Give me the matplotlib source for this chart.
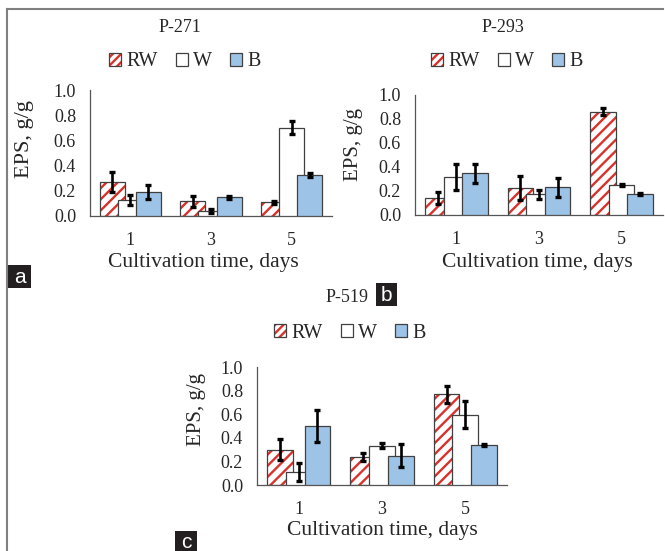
"""
EPS yield of three strains (P-271, P-293, P-519) under RW / W / B light.
"""

import matplotlib.pyplot as plt
import numpy as np
from matplotlib.lines import Line2D
from matplotlib.patches import Patch, Rectangle
from matplotlib.legend_handler import HandlerTuple

# --- data ---
days = ["1", "3", "5"]
series = ["RW", "W", "B"]

p271_rw = [0.27, 0.117, 0.108]
p271_rw_err = [0.083, 0.043, 0.01]
p271_w = [0.127, 0.042, 0.70]
p271_w_err = [0.04, 0.015, 0.053]
p271_b = [0.19, 0.148, 0.325]
p271_b_err = [0.053, 0.01, 0.015]

p293_rw = [0.138, 0.222, 0.86]
p293_rw_err = [0.05, 0.10, 0.03]
p293_w = [0.317, 0.172, 0.25]
p293_w_err = [0.11, 0.04, 0.01]
p293_b = [0.347, 0.23, 0.175]
p293_b_err = [0.08, 0.08, 0.01]

p519_rw = [0.30, 0.236, 0.767]
p519_rw_err = [0.088, 0.035, 0.068]
p519_w = [0.108, 0.332, 0.597]
p519_w_err = [0.075, 0.02, 0.114]
p519_b = [0.497, 0.25, 0.34]
p519_b_err = [0.135, 0.10, 0.01]

yticks = [0.0, 0.2, 0.4, 0.6, 0.8, 1.0]

# --- style ---
RED = "#d9312b"
BLUE = "#9dc3e6"
EDGE = "#404040"
TEXT = "#262626"
SERIF = "Liberation Serif"
BAR_W = 0.31
OFFSET = 0.225

plt.rcParams["font.family"] = SERIF
plt.rcParams["hatch.linewidth"] = 1.7
plt.rcParams["hatch.color"] = RED

W_PX, H_PX = 665, 551
fig = plt.figure(figsize=(W_PX / 100, H_PX / 100), dpi=100, facecolor="white")


def fx(px):
    return px / W_PX


def fy(py):
    return 1 - py / H_PX


def draw_panel(rect, rw, rw_err, w, w_err, b, b_err):
    ax = fig.add_axes(rect)
    x = np.arange(len(days))
    # RW: red hatch on white, then dark outline
    ax.bar(x - OFFSET, rw, BAR_W, color="white", edgecolor=RED, hatch="///", linewidth=0, zorder=2)
    ax.bar(x - OFFSET, rw, BAR_W, color="none", edgecolor=EDGE, linewidth=0.9, zorder=2)
    ax.bar(x, w, BAR_W, color="white", edgecolor=EDGE, linewidth=0.9, zorder=3)
    ax.bar(x + OFFSET, b, BAR_W, color=BLUE, edgecolor=EDGE, linewidth=0.9, zorder=4)
    for xs, vals, errs in ((x - OFFSET, rw, rw_err), (x, w, w_err), (x + OFFSET, b, b_err)):
        ax.errorbar(xs, vals, yerr=errs, fmt="none", ecolor="black", elinewidth=1.9,
                    capsize=2.3, capthick=2.4, zorder=6)
    ax.set_xlim(-0.5, 2.5)
    ax.set_ylim(0, 1.0)
    ax.set_xticks(x)
    ax.set_xticklabels(days)
    ax.set_yticks(yticks)
    ax.set_yticklabels([f"{t:.1f}" for t in yticks])
    ax.tick_params(axis="x", length=0, pad=11.5, labelsize=13, labelcolor=TEXT)
    ax.tick_params(axis="y", length=0, pad=10, labelsize=13, labelcolor=TEXT)
    for s in ("top", "right"):
        ax.spines[s].set_visible(False)
    for s in ("left", "bottom"):
        ax.spines[s].set_color("#555555")
        ax.spines[s].set_linewidth(0.9)
    ax.set_facecolor("none")
    return ax


def add_legend(cx, cy):
    rw_h = (Patch(facecolor="white", edgecolor=RED, hatch="////", linewidth=0),
            Patch(facecolor="none", edgecolor=EDGE, linewidth=0.9))
    w_h = Patch(facecolor="white", edgecolor=EDGE, linewidth=0.9)
    b_h = Patch(facecolor=BLUE, edgecolor=EDGE, linewidth=0.9)
    fig.legend([rw_h, w_h, b_h], series, loc="center", bbox_to_anchor=(fx(cx), fy(cy)),
               ncol=3, frameon=False, fontsize=14.5, handlelength=0.6, handleheight=0.6,
               handletextpad=0.25, columnspacing=0.9, borderpad=0, labelcolor=TEXT,
               handler_map={tuple: HandlerTuple(ndivide=1, pad=0)})


def panel_tag(x0, y0, x1, y1, letter):
    fig.add_artist(Rectangle((fx(x0), fy(y1)), fx(x1 - x0), (y1 - y0) / H_PX,
                             transform=fig.transFigure, facecolor="#231f20", edgecolor="none"))
    fig.text(fx((x0 + x1) / 2), fy((y0 + y1) / 2 + 1), letter, color="white", fontsize=15,
             family="Liberation Sans", ha="center", va="center")


# panel a: P-271
draw_panel([fx(90), fy(216), fx(332 - 90), 126 / H_PX],
           p271_rw, p271_rw_err, p271_w, p271_w_err, p271_b, p271_b_err)
fig.text(fx(180), fy(27), "P-271", fontsize=13, color=TEXT, ha="center", va="center")
add_legend(185, 62)
fig.text(fx(25), fy(139), "EPS, g/g", fontsize=16, color=TEXT, rotation=90, ha="center", va="center")
fig.text(fx(203), fy(263), "Cultivation time, days", fontsize=15.5, color=TEXT, ha="center", va="center")

# panel b: P-293
draw_panel([fx(415), fy(215), fx(663 - 415), 120 / H_PX],
           p293_rw, p293_rw_err, p293_w, p293_w_err, p293_b, p293_b_err)
fig.text(fx(503), fy(27), "P-293", fontsize=13, color=TEXT, ha="center", va="center")
add_legend(507, 62)
fig.text(fx(353), fy(145), "EPS, g/g", fontsize=15, color=TEXT, rotation=90, ha="center", va="center")
fig.text(fx(537), fy(262), "Cultivation time, days", fontsize=15.5, color=TEXT, ha="center", va="center")

# panel c: P-519
draw_panel([fx(257), fy(485), fx(507 - 257), 118 / H_PX],
           p519_rw, p519_rw_err, p519_w, p519_w_err, p519_b, p519_b_err)
fig.text(fx(347), fy(297), "P-519", fontsize=13, color=TEXT, ha="center", va="center")
add_legend(350, 333)
fig.text(fx(197), fy(410), "EPS, g/g", fontsize=15, color=TEXT, rotation=90, ha="center", va="center")
fig.text(fx(382), fy(530), "Cultivation time, days", fontsize=15.5, color=TEXT, ha="center", va="center")

# panel tags
panel_tag(8, 265, 31, 288, "a")
panel_tag(376, 283, 397, 306, "b")
panel_tag(175, 531, 197, 553, "c")

# outer frame (top and left only)
fig.add_artist(Line2D([fx(7), fx(663)], [fy(9), fy(9)], transform=fig.transFigure, color="#808080", lw=1.5))
fig.add_artist(Line2D([fx(7), fx(7)], [fy(9), 0], transform=fig.transFigure, color="#808080", lw=1.5))

fig.savefig("out.png", dpi=100, facecolor="white")
